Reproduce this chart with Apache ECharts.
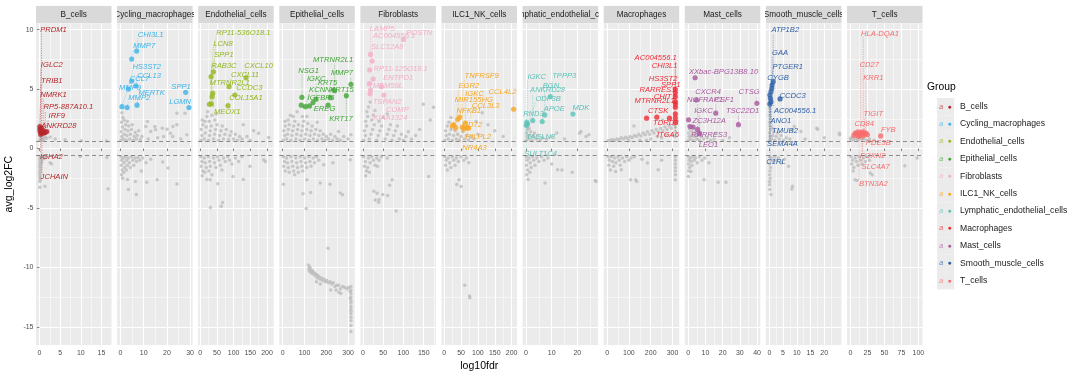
<!DOCTYPE html>
<html><head><meta charset="utf-8">
<script src="https://cdn.jsdelivr.net/npm/echarts@6/dist/echarts.min.js"></script>
<style>html,body{margin:0;padding:0;background:#fff}#c{width:1080px;height:378px}</style>
</head><body><div id="c"></div>
<script>
// ---------- data ----------
const groups = ['B_cells','Cycling_macrophages','Endothelial_cells','Epithelial_cells','Fibroblasts','ILC1_NK_cells','Lymphatic_endothelial_cells','Macrophages','Mast_cells','Smooth_muscle_cells','T_cells'];
const groupColors = ['#B5262B','#3DB4E8','#93B81E','#3FA535','#F4AEC8','#F6A623','#5BC2B8','#EF2B35','#A8589E','#2D5FA5','#F76C6C'];
const xTickLabels = [[0,5,10,15],[0,10,20,30],[0,50,100,150,200],[0,100,200,300],[0,50,100,150],[0,50,100,150,200],[0,10,20],[0,100,200,300],[0,10,20,30,40],[0,5,10,15,20],[0,25,50,75,100]];
const yTickLabels = [-15,-10,-5,0,5,10];
const fcThreshold = 0.585;

// non-significant genes (grey) : [log10fdr, avg_log2FC]
const grayB = [[0.1,0.7],[0.3,0.8],[0.6,0.7],[0.9,0.9],[0.2,1.0],[0.5,1.1],[1.1,0.75],[1.4,0.95],[0.8,1.2],[1.8,0.87],[2.6,0.96],[3.8,0.79],[6.2,0.73],[10.1,0.66],[16.2,0.62],[0.1,-0.65],[0.2,-0.8],[0.1,-0.95],[0.3,-1.1],[0.1,-1.25],[0.2,-1.4],[0.1,-1.55],[0.3,-1.7],[0.1,-1.85],[0.2,-2.0],[0.1,-2.15],[0.2,-2.3],[0.1,-2.45],[0.2,-2.6],[0.1,-2.77],[0.6,-0.7],[0.8,-0.9],[0.5,-1.2],[1.0,-0.65],[1.4,-0.8],[2.6,-1.2],[2.9,-1.3],[9.9,-0.67],[16.3,-0.75],[0.1,-3.26],[1.35,-3.17],[16.6,-3.38]];
const grayCyc = [[0.2,0.7],[0.5,1.0],[0.3,1.4],[0.8,1.8],[0.4,2.2],[1.0,2.6],[0.6,3.0],[1.3,0.8],[1.6,1.2],[1.9,1.6],[2.2,2.0],[1.5,2.4],[2.5,0.7],[2.8,1.1],[3.2,1.5],[3.5,1.9],[2.9,2.3],[4.0,0.8],[4.3,1.2],[4.7,1.6],[5.0,2.0],[5.5,0.7],[5.9,1.0],[6.3,1.35],[6.8,0.8],[7.2,1.1],[7.8,1.5],[8.5,0.75],[9.2,1.0],[10.9,1.85],[11.6,2.26],[13,1.43],[14.8,1.85],[15.1,1.57],[18,1.7],[18.6,1.0],[20.1,1.62],[21.5,1.29],[22.6,1.85],[22.5,1.0],[24.3,2.0],[24.3,2.97],[27.8,2.97],[28.6,1.15],[26,0.8],[12,0.8],[16,0.9],
[0.2,-0.7],[0.5,-1.0],[0.3,-1.4],[0.7,-1.8],[0.4,-2.2],[0.9,-2.5],[1.2,-0.8],[1.5,-1.2],[1.8,-1.6],[1.4,-2.0],[2.2,-0.7],[2.6,-1.0],[2.9,-1.4],[2.5,-1.8],[3.4,-0.8],[3.8,-1.2],[4.2,-1.6],[4.8,-0.7],[5.3,-1.0],[5.7,-1.4],[6.3,-0.8],[6.9,-1.1],[7.6,-0.75],[8.3,-1.0],[9.5,-0.8],[11,-1.2],[13,-0.9],[18.2,-1.14],[20.5,-1.64],[15.8,-2.62],[11.3,-2.85],[6.4,-2.77],[3.4,-3.46],[6.8,-3.88],[24.3,-2.99],[9,-1.9],[3,-2.6]];
const grayEndo = [[2,0.7],[5,1.1],[3,1.6],[8,2.0],[6,2.4],[12,0.8],[15,1.3],[18,1.8],[14,2.3],[20,2.7],[25,0.7],[28,1.1],[30,1.5],[33,1.9],[27,2.3],[35,2.8],[40,0.8],[43,1.2],[46,1.6],[50,2.0],[44,2.4],[55,0.7],[58,1.1],[62,1.5],[66,1.9],[70,0.8],[74,1.2],[78,1.6],[85,0.75],[89,1.1],[93,1.4],[100,0.8],[105,1.2],[112,0.7],[118,1.0],[125,0.8],[129,1.99],[140,1.0],[150,0.7],[174.7,1.29],[205,0.92],[160,1.5],[22,3.1],[48,2.9],
[2,-0.7],[5,-1.1],[3,-1.5],[8,-1.9],[6,-2.3],[12,-0.8],[15,-1.2],[18,-1.6],[14,-2.0],[25,-0.7],[28,-1.1],[30,-1.5],[26,-1.9],[35,-2.2],[40,-0.8],[43,-1.2],[47,-1.6],[52,-0.7],[56,-1.0],[60,-1.4],[65,-1.8],[70,-0.8],[75,-1.1],[82,-0.7],[88,-1.0],[95,-1.3],[105,-0.8],[115,-1.1],[125,-0.7],[149,-1.5],[190,-0.95],[195,-1.1],[98,-2.35],[129,-2.6],[30,-2.62],[52.7,-2.96],[63,-4.86],[30.5,-4.96],[67,-4.55],[20,-2.6]];
const grayEpi = [[3,0.7],[8,1.1],[5,1.5],[12,1.9],[10,2.3],[18,0.8],[22,1.2],[26,1.6],[30,2.0],[25,2.4],[35,2.8],[38,0.7],[42,1.1],[46,1.5],[50,1.9],[55,2.3],[48,2.7],[60,0.8],[64,1.2],[68,1.6],[72,2.0],[66,3.1],[80,0.7],[84,1.1],[88,1.5],[92,1.9],[96,2.3],[100,0.8],[105,1.2],[110,1.6],[111,2.68],[115,2.1],[120,0.7],[125,1.1],[130,1.5],[135,1.9],[140,0.8],[146,1.2],[152,1.6],[160,0.7],[166,1.1],[172,1.5],[180,0.8],[186,1.2],[195,0.7],[200,1.0],[210,0.8],[220,1.2],[230,0.7],[240,1.0],[256,1.43],[250,0.8],[265,0.7],[280,1.0],[300,0.8],[313,1.15],[158,2.2],[90,2.7],
[3,-0.7],[8,-1.1],[5,-1.5],[12,-1.9],[18,-0.8],[22,-1.2],[26,-1.6],[30,-2.0],[38,-0.7],[42,-1.1],[46,-1.5],[50,-1.9],[55,-2.2],[60,-0.8],[64,-1.2],[68,-1.6],[72,-2.0],[80,-0.7],[84,-1.1],[88,-1.5],[92,-1.9],[100,-0.8],[105,-1.2],[110,-1.6],[120,-0.7],[125,-1.1],[130,-1.5],[140,-0.8],[146,-1.2],[155,-0.7],[165,-1.0],[188,-1.37],[230,-1.2],[310,-0.95],[111,-2.62],[172,-2.9],[264,-3.74],[3,-3.0],[93,-3.8],[108,-5.05],[128,-3.7],[217,-3.0],[275,-3.9],
[208,-8.4],[118,-9.8],[120,-10.1],[122,-10.3],[125,-10.0],[128,-10.4],[130,-10.2],[133,-10.5],[136,-10.3],[140,-10.4],[143,-10.6],[147,-10.5],[150,-10.7],[155,-10.6],[158,-10.9],[162,-10.7],[167,-10.8],[172,-11.0],[178,-10.9],[183,-11.1],[190,-11.0],[196,-11.2],[203,-11.1],[210,-11.3],[218,-11.2],[225,-11.4],[232,-11.3],[240,-11.6],[248,-11.5],[257,-11.5],[265,-11.8],[275,-11.6],[285,-11.7],[295,-11.8],[303,-11.7],[155,-11.2],[172,-11.4],[220,-11.9],[258,-12.1],[245,-11.9],[267,-12.2],
[313,-11.6],[313,-11.9],[313,-12.2],[313,-12.5],[313,-12.8],[313,-13.0],[313,-13.3],[313,-13.5],[313,-13.7],[313,-13.9],[313,-14.2],[313,-14.5],[313,-14.9],[313,-15.4],[309,-12.0],[310,-12.6]];
const grayFib = [[2,0.7],[6,1.1],[4,1.5],[9,1.9],[7,2.3],[12,2.7],[10,3.1],[14,3.5],[16,0.8],[20,1.2],[24,1.6],[28,2.0],[22,2.4],[26,2.8],[30,3.2],[34,0.7],[38,1.1],[42,1.5],[46,1.9],[40,2.3],[50,2.6],[55,0.8],[60,1.2],[64,1.6],[68,2.0],[72,0.7],[76,1.1],[80,1.5],[85,1.9],[90,0.8],[95,1.2],[100,0.7],[106,1.0],[112,1.4],[120,0.8],[130,1.1],[149,3.73],[166,2.4],[174,3.47],[140,1.6],[60,2.9],[18,3.9],
[2,-0.7],[6,-1.1],[4,-1.5],[9,-1.9],[7,-2.3],[14,-0.8],[18,-1.2],[12,-1.6],[16,-2.0],[22,-0.7],[26,-1.0],[30,-1.4],[36,-1.5],[34,-0.8],[40,-1.0],[46,-0.7],[72,-2.62],[49,-3.88],[40,-4.3],[162,-2.35],[30.5,-4.33],[39,-4.52],[61,-3.96],[66,-3.1],[82,-5.25],[27,-3.6],[35,-3.77],[60,-0.8]];
const grayILC = [[2,0.7],[6,1.1],[4,1.5],[9,1.9],[12,0.8],[16,1.2],[20,1.6],[14,2.2],[24,0.7],[28,1.1],[32,1.5],[36,0.8],[40,1.2],[45,0.7],[50,1.0],[55,1.4],[60,0.8],[66,1.1],[72,0.7],[80,1.0],[88,0.8],[100,1.2],[113,3.0],[130,2.0],[150,1.5],[95,2.3],[175,1.0],[20,2.6],
[2,-0.7],[6,-1.0],[4,-1.4],[9,-1.8],[12,-0.8],[16,-1.2],[20,-1.6],[24,-0.7],[28,-1.0],[32,-1.4],[36,-0.8],[42,-1.1],[50,-0.7],[58,-1.0],[66,-0.8],[73,-1.2],[44,-2.62],[50,-3.2],[37.5,-3.02],[61,-11.5],[75,-12.4],[76,-12.55]];
const grayLym = [[0.1,0.7],[0.4,1.0],[0.2,1.3],[0.6,1.6],[0.3,1.9],[1.0,0.8],[1.4,1.1],[1.8,1.4],[1.2,1.7],[2.3,0.7],[2.8,1.0],[3.3,1.3],[4.0,0.8],[4.6,1.1],[5.5,0.7],[6.5,0.9],[8,0.8],[10,1.0],[21.4,1.43],[23.4,1.0],[20.9,1.29],[24.5,1.15],[15,0.8],[12,1.3],
[0.1,-0.7],[0.4,-1.0],[0.2,-1.4],[0.6,-1.8],[0.3,-2.2],[0.8,-2.6],[1.2,-0.8],[1.6,-1.2],[2.0,-1.6],[1.5,-2.0],[2.6,-0.7],[3.0,-1.0],[3.5,-1.4],[4.2,-0.8],[5.0,-1.1],[6.0,-0.7],[7.0,-1.0],[8.5,-0.8],[12.3,-1.79],[14,-1.8],[18,-2.0],[27.3,-2.77],[7.4,-2.9],[27,-2.7],[10,-1.3]];
const grayMac = [[5,0.65],[15,0.7],[25,0.75],[35,0.7],[45,0.8],[55,0.75],[65,0.9],[75,0.8],[85,0.95],[95,0.85],[105,1.0],[115,0.9],[125,1.1],[135,1.0],[145,1.2],[155,1.05],[165,1.3],[175,1.15],[185,1.4],[195,1.2],[205,1.5],[215,1.3],[225,1.6],[235,1.4],[245,1.7],[255,1.5],[265,1.8],[275,1.6],[285,1.9],[295,1.7],[305,2.0],[313,1.8],[123,1.9],[254,2.4],[313,1.4],[313,1.0],[150,0.7],[200,0.8],[250,0.9],[300,1.1],[100,0.65],[230,1.0],[270,1.2],[180,0.7],
[5,-0.7],[10,-1.0],[8,-1.4],[15,-1.8],[20,-0.7],[25,-1.1],[30,-1.5],[35,-0.8],[40,-1.2],[39,-1.93],[50,-0.7],[55,-1.0],[60,-1.4],[65,-1.79],[70,-0.8],[80,-1.1],[90,-0.7],[100,-1.0],[110,-0.8],[125,-0.7],[185,-1.22],[234,-1.79],[131,-2.62],[108,-2.62],[136,-2.77],[313,-0.7],[313,-1.0],[313,-1.3],[313,-1.6],[313,-1.9],[313,-2.2],[313,-2.62],[160,-0.9],[250,-1.0]];
const grayMast = [[0.1,0.7],[0.5,1.0],[0.2,1.3],[0.8,1.6],[0.3,1.9],[1.2,0.8],[1.7,1.1],[2.2,1.4],[2.8,0.7],[3.4,1.0],[4.0,1.3],[4.8,0.8],[5.6,1.1],[6.5,0.7],[7.5,1.0],[9,0.8],[11,0.9],[13,0.7],[16,1.29],[15,0.8],[20,0.7],[24,0.9],
[0.1,-0.7],[0.5,-1.0],[0.2,-1.3],[0.8,-1.6],[0.3,-1.9],[1.2,-0.8],[1.7,-1.1],[2.2,-1.4],[2.8,-0.7],[3.4,-1.0],[4.2,-0.8],[5.2,-1.2],[6.5,-0.7],[8,-1.0],[9.6,-0.8],[0.1,-2.35],[1.5,-1.93],[9.2,-2.62],[17.4,-2.85],[21.9,-2.85],[12,-1.2]];
const graySmooth = [[0.1,0.7],[0.3,1.0],[0.1,1.3],[0.4,1.6],[0.2,1.9],[0.1,2.2],[0.3,2.5],[0.1,2.8],[0.2,3.1],[0.1,3.4],[0.8,0.8],[1.2,1.1],[1.6,1.4],[1.0,1.7],[2.0,0.7],[2.5,1.0],[3.0,1.3],[3.6,0.8],[4.3,1.1],[5.2,0.7],[6.2,0.9],[7.5,0.8],[9.1,1.85],[8.4,1.57],[11.5,1.43],[17.3,1.71],[17.6,1.62],[25.5,1.29],[25.6,1.15],[13,0.8],[20,0.9],
[0.1,-0.7],[0.3,-1.0],[0.1,-1.3],[0.4,-1.6],[0.2,-1.9],[0.1,-2.2],[0.3,-2.5],[0.1,-2.77],[0.1,-3.04],[0.2,-3.46],[0.6,-3.88],[0.9,-0.8],[1.4,-1.1],[2.0,-0.7],[2.6,-1.0],[3.3,-0.8],[4.4,-1.22],[5.5,-0.9],[8.2,-3.4],[8.4,-3.18],[7,-1.5]];
const grayT = [[1,0.7],[3,0.9],[5,0.75],[8,0.85],[11,0.7],[14,0.9],[17,0.75],[20,0.85],[24,0.7],[28,0.8],[0,0.87],[35,0.7],
[1,-0.7],[3,-1.0],[2,-1.3],[5,-1.6],[4,-1.9],[7,-0.8],[9,-1.1],[11,-1.4],[13,-0.7],[15,-1.0],[17,-1.3],[19,-0.8],[22,-1.1],[25,-0.7],[28,-1.0],[6.8,-2.62],[10,-2.7],[29,-2.06],[32,-2.2],[80,-1.45],[98,-0.8]];

// significant marker genes (coloured)
const hiB = [[0.1,1.85],[0.1,1.6],[0.2,1.4],[0.3,1.2],[0.5,1.7],[0.6,1.3],[0.9,1.5],[1.1,1.3],[1.4,1.35],[1.8,1.43]];
const hiCyc = [[6.95,8.19],[4.8,7.52],[4.8,5.67],[3.4,5.0],[6.65,5.26],[0.6,3.52],[2.85,3.44],[7.1,3.64],[28.1,4.72],[29.5,3.44]];
const hiEndo = [[39.6,6.45],[32.6,6.04],[37.5,4.64],[35.6,4.36],[33.5,3.75],[27.4,3.72],[86.3,5.2],[137,5.95],[103.6,4.5],[83.2,3.6]];
const hiEpi = [[313,5.4],[292,4.44],[238,4.86],[218,4.27],[208,3.64],[153,4.14],[139,3.86],[123,3.58],[104,3.52],[85,3.64],[88,4.3]];
const hiFib = [[100,9.17],[19,7.91],[23,7.35],[17,6.6],[25.5,5.84],[16,5.45],[19,4.92],[46,5.2],[52,4.5],[18,4.6]];
const hiILC = [[206,3.3],[46,2.63],[40,2.45],[24,1.9],[28,2.0],[34,1.75],[54,1.79],[63,2.13],[68,1.76],[58,1.63],[72,1.7]];
const hiLym = [[0.1,1.95],[0.3,2.2],[0.6,2.05],[2.6,2.35],[6.3,2.26],[7.3,2.82],[9.5,4.36],[18.3,2.9]];
const hiMac = [[181,2.55],[228,2.63],[286,2.55],[313,4.98],[313,4.69],[313,4.36],[313,3.94],[313,3.75],[313,3.47],[313,2.91],[313,2.55],[313,2.2]];
const hiMast = [[4.0,5.95],[4.8,4.08],[16,2.97],[39.9,3.8],[29.2,2.0],[0.2,2.41],[1.1,1.85],[2.8,1.8],[6.5,1.29],[5.4,1.6]];
const hiSmooth = [[1.4,5.62],[1.0,5.34],[0.9,5.06],[0.6,4.78],[0.2,4.5],[0.4,4.22],[0.6,3.94],[0.2,3.75],[3.9,4.17]];
const hiT = [[5,1.1],[7,1.3],[9,1.2],[11,1.4],[13,1.15],[15,1.35],[17,1.25],[19,1.4],[21,1.2],[23,1.3],[25,1.15],[12,1.0],[18,1.05],[44.5,1.06]];

// gene labels: [gene, index of its point, label log10fdr, label avg_log2FC]
const labB = [['PRDM1',4,3.4,10.0],['IGLC2',0,3.0,7.07],['TRIB1',1,3.0,5.7],['NMRK1',6,3.4,4.5],['RP5-887A10.1',8,7.0,3.47],['IRF9',7,4.2,2.74],['ANKRD28',9,4.7,1.9],['IGHA2',3,2.9,-0.67],['JCHAIN',5,3.6,-2.43]];
const labCyc = [['CHI3L1',0,13.0,9.59],['MMP7',1,10.2,8.63],['HS3ST2',2,11.3,6.87],['MMP9',3,4.1,5.06],['CCL13',4,12.3,6.12],['CCL7',5,8.2,5.84],['MMP2',6,8.05,4.22],['MERTK',7,13.4,4.64],['SPP1',8,26.1,5.2],['LGMN',9,25.7,3.94]];
const labEndo = [['RP11-536O18.1',0,129,9.75],['LCN8',1,68,8.83],['SPP1',5,71,7.85],['RAB3C',4,71,6.96],['CXCL10',7,174.6,6.96],['CXCL11',6,134,6.18],['MTRNR2L1',2,88,5.53],['CCDC3',8,147,5.14],['COL15A1',9,137,4.27],['MEOX1',3,81,3.05]];
const labEpi = [['MTRNR2L1',2,231,7.44],['NSG1',10,119,6.54],['MMP7',0,272,6.32],['IGKC',5,154,5.84],['KRT5',3,206,5.53],['KCNN4',8,180,4.92],['KRT15',1,272,4.92],['IGFBP6',6,176,4.22],['EREG',4,192,3.3],['KRT17',1,267,2.49]];
const labFib = [['LAMP5',1,48,10.1],['POSTN',0,139,9.75],['AC004556.1',2,77,9.45],['SLC12A8',3,60,8.55],['RP11-125O18.1',4,93,6.68],['ENTPD1',7,87,5.95],['TMEM59L',5,56,5.28],['TSPAN2',6,60,3.94],['COMP',8,85,3.24],['KIAA1324',9,68,2.55]];
const labILC = [['TNFRSF9',1,111,6.1],['EGR2',2,73,5.28],['IGKC',7,90,4.58],['CCL4L2',0,173,4.78],['MIR155HG',6,88,4.08],['CCL3L3',10,123,3.6],['NFKB1',5,73,3.16],['CD72',9,83,1.99],['RILPL2',8,101,0.95],['NR4A3',4,90,0.08]];
const labLym = [['IGKC',1,4.2,6.04],['TPPP3',6,14.9,6.1],['BGN',5,9.7,5.26],['ANKRD28',3,8.4,4.92],['ODF3B',2,8.6,4.14],['APOE',4,11,3.33],['MDK',7,21.4,3.38],['RND3',0,2.9,2.88],['TAGLN3',1,5.7,0.95],['SULT1C4',0,5.7,-0.47]];
const labMac = [['AC004556.1',3,223,7.63],['CHI3L1',4,264,6.93],['HS3ST2',5,257,5.84],['SPP1',6,292,5.34],['RARRES1',7,231,4.92],['CHIT1',8,264,4.3],['MTRNR2L1',9,218,4.0],['CTSK',1,234,3.16],['TDRD3',2,269,2.13],['ITGA6',11,279,1.15]];
const labMast = [['XXbac-BPG13B8.10',0,20.5,6.45],['CXCR4',1,11.6,4.78],['CTSG',3,35.4,4.72],['NGFRAP1',9,9.7,4.08],['CSF1',2,20.9,4.08],['IGKC',8,8.9,3.16],['TSC22D1',4,31.6,3.16],['ZC3H12A',5,12.2,2.35],['RARRES3',6,12.2,1.15],['LEO1',7,11.8,0.31]];
const labSmooth = [['ATP1B2',0,5.8,9.95],['GAA',1,3.9,8.08],['PTGER1',2,6.7,6.87],['CYGB',3,3.2,5.98],['CCDC3',8,8.5,4.42],['AC004556.1',5,9.4,3.16],['ANO1',6,4.2,2.35],['TMUB2',7,5.7,1.51],['SEMA4A',4,4.8,0.37],['C1RL',7,2.4,-1.14]];
const labT = [['HLA-DQA1',7,43.5,9.67],['CD27',5,27.8,7.07],['KRR1',9,33.7,5.95],['TIGIT',8,33.7,2.91],['CD84',3,20.4,2.07],['FYB',13,55.7,1.57],['PDE3B',10,41,0.45],['FOXN2',6,32.8,-0.59],['SLC4A7',12,37.2,-1.51],['BTN3A2',4,33.7,-2.98]];

// ---------- assembly ----------
const panelGray = [grayB,grayCyc,grayEndo,grayEpi,grayFib,grayILC,grayLym,grayMac,grayMast,graySmooth,grayT];
const panelHi = [hiB,hiCyc,hiEndo,hiEpi,hiFib,hiILC,hiLym,hiMac,hiMast,hiSmooth,hiT];
const panelLab = [labB,labCyc,labEndo,labEpi,labFib,labILC,labLym,labMac,labMast,labSmooth,labT];
const xRange = [[-0.83,17.43],[-1.48,31.08],[-6,220],[-15.75,330.75],[-6,180],[-8,216],[-1.34,28.1],[-15.75,330.75],[-2,41.9],[-1.25,26.25],[-5,106]];
const yRange = [-16.53,10.53];

const FF = '"Liberation Sans", Arial, sans-serif';
const LABEL_FONT = 'italic 7.6px ' + FF;
const mctx = document.createElement('canvas').getContext('2d');
mctx.font = LABEL_FONT;
const tw = s => mctx.measureText(s).width;

function minorsOf(t, lo, hi) {
  const s = t[1] - t[0], m = [t[0] - s / 2];
  for (let i = 0; i < t.length - 1; i++) m.push((t[i] + t[i + 1]) / 2);
  m.push(t[t.length - 1] + s / 2);
  return m.filter(v => v > lo && v < hi);
}
function rgba(hex, a) {
  const n = parseInt(hex.slice(1), 16);
  return `rgba(${n >> 16},${(n >> 8) & 255},${n & 255},${a})`;
}

const N = groups.length;
const PL = 36, PW = 75.5, PS = 81.1, PT = 23.3, PH = 321.7, ST = 5.7;
const grids = [], xAxes = [], yAxes = [], series = [];
const yMinor = minorsOf(yTickLabels, yRange[0], yRange[1]);

for (let i = 0; i < N; i++) {
  const left = PL + i * PS;
  grids.push({left: left, top: PT, width: PW, height: PH, show: true, backgroundColor: '#EBEBEB', borderWidth: 0, containLabel: false});
  const [lo, hi] = xRange[i];
  xAxes.push({
    type: 'value', gridIndex: i, min: lo, max: hi, position: 'bottom',
    axisLine: {show: false},
    axisTick: {show: true, length: 2.7, lineStyle: {color: '#333', width: 0.6}, customValues: xTickLabels[i]},
    axisLabel: {customValues: xTickLabels[i], fontSize: 7, color: '#4D4D4D', margin: 4.5, fontFamily: FF},
    splitLine: {show: true, lineStyle: {color: '#FFFFFF', width: 1.1}}
  });
  xAxes.push({
    type: 'value', gridIndex: i, min: lo, max: hi, position: 'top',
    axisLine: {show: false}, axisLabel: {show: false},
    axisTick: {show: false, customValues: minorsOf(xTickLabels[i], lo, hi)},
    splitLine: {show: true, lineStyle: {color: '#FFFFFF', width: 0.5}}
  });
  const mainY = {
    type: 'value', gridIndex: i, min: yRange[0], max: yRange[1], position: 'left',
    axisLine: {show: false},
    axisTick: {show: i === 0, length: 2.7, lineStyle: {color: '#333', width: 0.6}, customValues: yTickLabels},
    axisLabel: {show: i === 0, customValues: yTickLabels, fontSize: 7, color: '#4D4D4D', margin: 2.5, fontFamily: FF},
    splitLine: {show: true, lineStyle: {color: '#FFFFFF', width: 1.1}}
  };
  if (i === 0) {
    mainY.name = 'avg_log2FC'; mainY.nameLocation = 'middle'; mainY.nameGap = 21; mainY.nameRotate = 90;
    mainY.nameTextStyle = {fontSize: 10.5, color: '#000', fontFamily: FF};
  }
  yAxes.push(mainY);
  yAxes.push({
    type: 'value', gridIndex: i, min: yRange[0], max: yRange[1], position: 'right',
    axisLine: {show: false}, axisLabel: {show: false},
    axisTick: {show: false, customValues: yMinor},
    splitLine: {show: true, lineStyle: {color: '#FFFFFF', width: 0.5}}
  });

  const col = groupColors[i];
  const hiPts = panelHi[i], labs = panelLab[i];
  series.push({
    type: 'scatter', name: 'ns_' + i, xAxisIndex: 2 * i, yAxisIndex: 2 * i, silent: true, z: 2,
    symbolSize: 3.5, itemStyle: {color: '#BDBDBD'}, data: panelGray[i],
    markLine: {silent: true, symbol: ['none', 'none'], label: {show: false}, animation: false,
      lineStyle: {color: '#4D4D4D', type: [4, 3], width: 0.6},
      data: [{yAxis: fcThreshold}, {yAxis: -fcThreshold}]}
  });
  series.push({
    type: 'custom', name: 'lab_' + i, xAxisIndex: 2 * i, yAxisIndex: 2 * i, silent: true, z: 3, clip: false,
    data: labs.map(r => [r[2], r[3]]),
    renderItem: (params, api) => {
      const row = labs[params.dataIndex];
      const p = api.coord(hiPts[row[1]]);
      const l = api.coord([row[2], row[3]]);
      const w = tw(row[0]), h = 7.4;
      const cx = Math.max(l[0] - w / 2, Math.min(p[0], l[0] + w / 2));
      const cy = Math.max(l[1] - h / 2, Math.min(p[1], l[1] + h / 2));
      const d = Math.hypot(cx - p[0], cy - p[1]);
      const ch = [];
      if (d > 5) ch.push({type: 'line', shape: {x1: p[0], y1: p[1], x2: cx, y2: cy},
        style: {stroke: col, lineWidth: 0.6, lineDash: [1.2, 1.2], opacity: 0.8}});
      ch.push({type: 'text', style: {text: row[0], x: l[0], y: l[1], align: 'center', verticalAlign: 'middle', fill: col, font: LABEL_FONT}});
      return {type: 'group', children: ch};
    }
  });
  series.push({
    type: 'scatter', name: groups[i], xAxisIndex: 2 * i, yAxisIndex: 2 * i, silent: true, z: 4,
    symbolSize: 5.2, itemStyle: {color: col}, data: hiPts
  });
}
// facet strips
for (let i = 0; i < N; i++) {
  const gi = N + i;
  grids.push({left: PL + i * PS, top: ST, width: PW, height: PT - ST, show: false});
  xAxes.push({type: 'value', gridIndex: gi, min: 0, max: 1, show: false});
  yAxes.push({type: 'value', gridIndex: gi, min: 0, max: 1, show: false});
  series.push({
    type: 'custom', name: 'strip_' + i, xAxisIndex: xAxes.length - 1, yAxisIndex: yAxes.length - 1,
    silent: true, clip: true, data: [[0.5, 0.5]],
    renderItem: (params, api) => {
      const cs = params.coordSys;
      return {type: 'group', children: [
        {type: 'rect', shape: {x: cs.x, y: cs.y, width: cs.width, height: cs.height}, style: {fill: '#D9D9D9'}},
        {type: 'text', style: {text: groups[i], x: cs.x + cs.width / 2, y: cs.y + cs.height / 2 + 0.5, align: 'center', verticalAlign: 'middle', fill: '#1A1A1A', font: '8.2px ' + FF}}
      ]};
    }
  });
}

const legendData = groups.map((g, i) => ({
  name: g, icon: 'circle', itemStyle: {opacity: 0},
  textStyle: {rich: {
    a: {width: 8, height: 17.4, backgroundColor: '#EBEBEB', color: rgba(groupColors[i], 0.75), fontStyle: 'italic', fontSize: 7, align: 'right', fontFamily: FF},
    d: {width: 9, height: 17.4, backgroundColor: '#EBEBEB', color: groupColors[i], fontSize: 7, align: 'left', fontFamily: FF},
    n: {padding: [0, 0, 0, 6], fontSize: 8.6, color: '#1A1A1A', fontFamily: FF}
  }}
}));

const plotCenterX = PL + ((N - 1) * PS + PW) / 2;
const chart = echarts.init(document.getElementById('c'), null, {renderer: 'canvas'});
chart.setOption({
  animation: false,
  backgroundColor: '#FFFFFF',
  textStyle: {fontFamily: FF},
  title: [
    {text: 'Group', left: 927, top: 82, padding: 0, textStyle: {fontSize: 10.3, fontWeight: 'normal', color: '#000', fontFamily: FF}},
    {text: 'log10fdr', left: plotCenterX, textAlign: 'center', top: 361, padding: 0, textStyle: {fontSize: 10.5, fontWeight: 'normal', color: '#000', fontFamily: FF}}
  ],
  legend: {
    orient: 'vertical', left: 927, top: 93, itemGap: 0, itemWidth: 0.1, itemHeight: 0.1,
    selectedMode: false, data: legendData,
    formatter: name => `{a|a}{d|●}{n|${name}}`
  },
  grid: grids, xAxis: xAxes, yAxis: yAxes, series: series
});
</script>
</body></html>
